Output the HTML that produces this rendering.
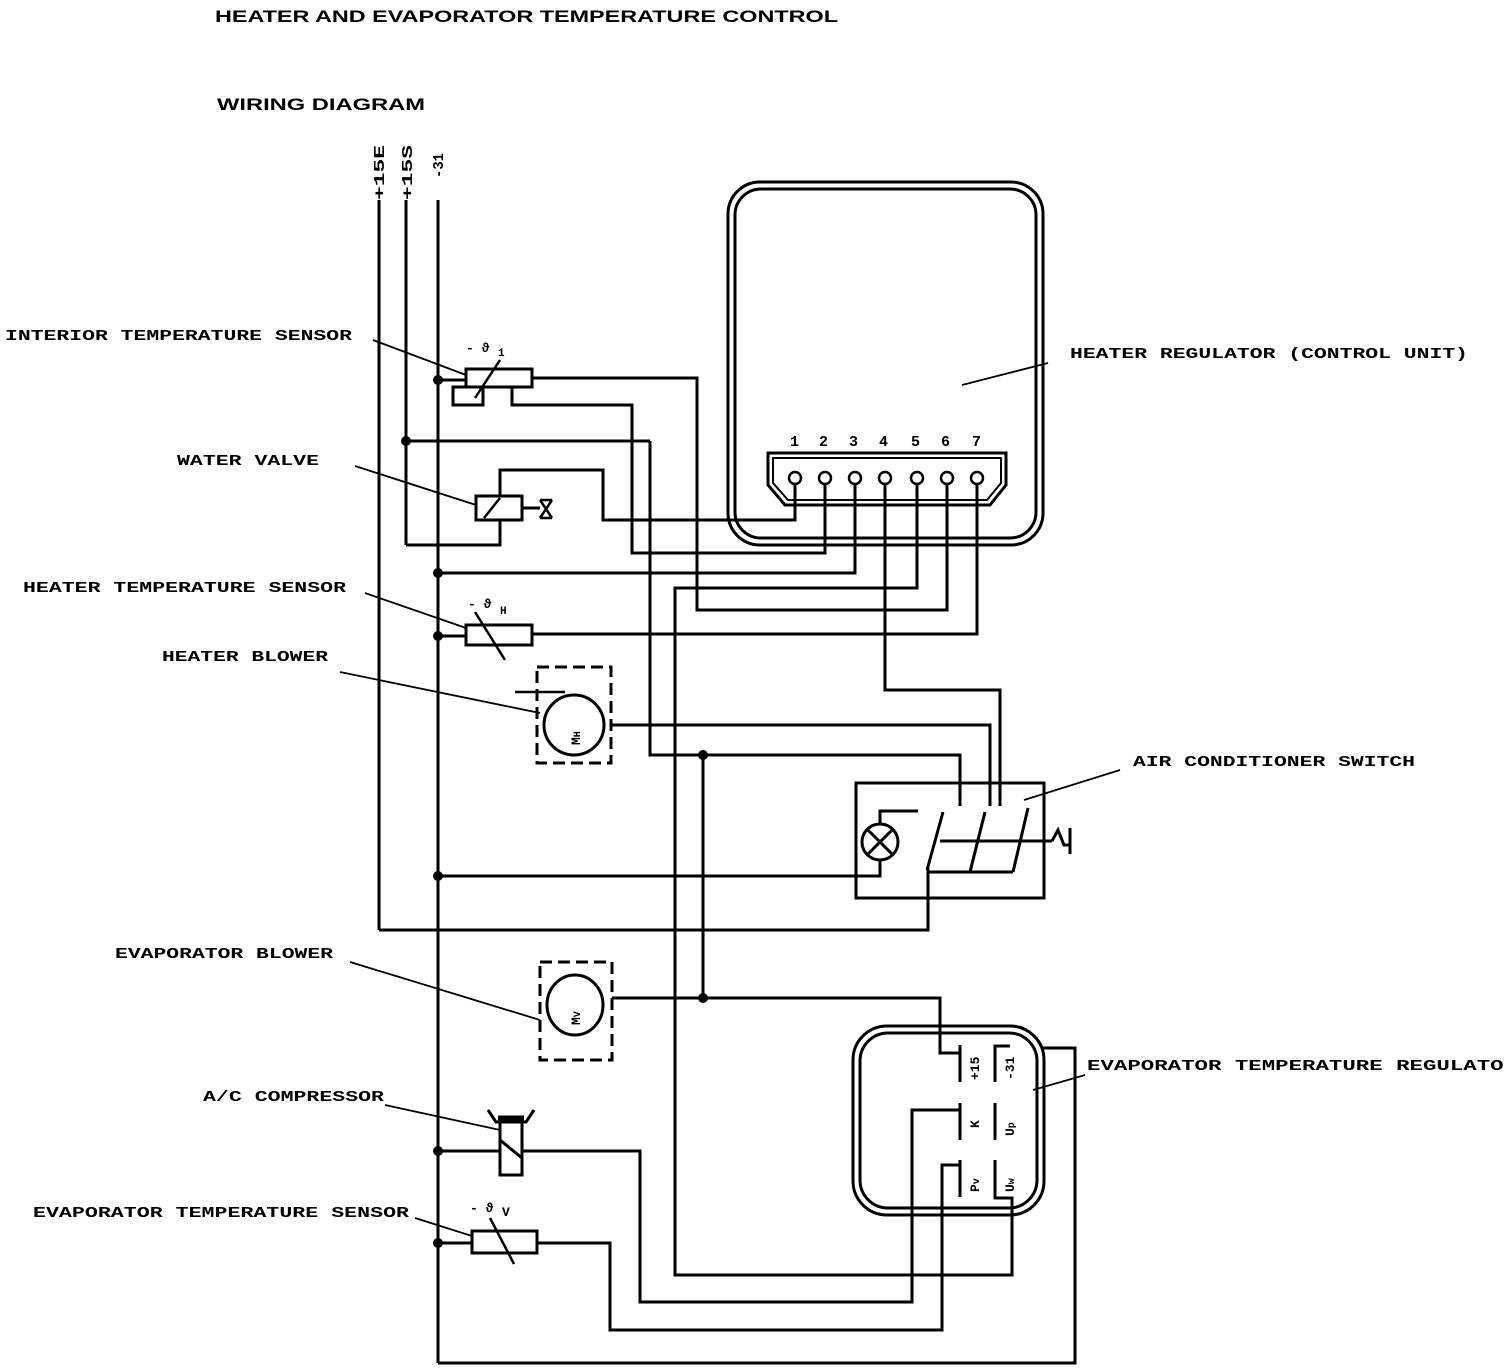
<!DOCTYPE html>
<html><head><meta charset="utf-8"><style>
html,body{margin:0;padding:0;background:#fff;}
svg{display:block;}
.t{font-family:"Liberation Mono",monospace;font-size:15px;font-weight:bold;fill:#000;}
.h{font-family:"Liberation Sans",sans-serif;font-size:17px;font-weight:bold;fill:#000;}
</style></head><body>
<svg width="1504" height="1372" viewBox="0 0 1504 1372" xmlns="http://www.w3.org/2000/svg">
<g class="h">
<text x="215" y="22" textLength="623" lengthAdjust="spacingAndGlyphs">HEATER AND EVAPORATOR TEMPERATURE CONTROL</text>
<text x="217" y="110" textLength="208" lengthAdjust="spacingAndGlyphs">WIRING DIAGRAM</text>
</g>
<g class="t">
<text x="5" y="340" textLength="347" lengthAdjust="spacingAndGlyphs">INTERIOR TEMPERATURE SENSOR</text>
<text x="177" y="465" textLength="142" lengthAdjust="spacingAndGlyphs">WATER VALVE</text>
<text x="23" y="592" textLength="323" lengthAdjust="spacingAndGlyphs">HEATER TEMPERATURE SENSOR</text>
<text x="162" y="661" textLength="166" lengthAdjust="spacingAndGlyphs">HEATER BLOWER</text>
<text x="1070" y="358" textLength="398" lengthAdjust="spacingAndGlyphs">HEATER REGULATOR (CONTROL UNIT)</text>
<text x="1133" y="766" textLength="282" lengthAdjust="spacingAndGlyphs">AIR CONDITIONER SWITCH</text>
<text x="115" y="958" textLength="218" lengthAdjust="spacingAndGlyphs">EVAPORATOR BLOWER</text>
<text x="203" y="1101" textLength="181" lengthAdjust="spacingAndGlyphs">A/C COMPRESSOR</text>
<text x="33" y="1217" textLength="376" lengthAdjust="spacingAndGlyphs">EVAPORATOR TEMPERATURE SENSOR</text>
<text x="1087" y="1070" textLength="430" lengthAdjust="spacingAndGlyphs">EVAPORATOR TEMPERATURE REGULATOR</text>
<text transform="translate(384,200) rotate(-90)" textLength="55" lengthAdjust="spacingAndGlyphs">+15E</text>
<text transform="translate(412,200) rotate(-90)" textLength="55" lengthAdjust="spacingAndGlyphs">+15S</text>
<text transform="translate(443,178) rotate(-90)" textLength="25" lengthAdjust="spacingAndGlyphs">-31</text>
<text x="790" y="446">1</text><text x="819" y="446">2</text><text x="849" y="446">3</text><text x="879" y="446">4</text><text x="911" y="446">5</text><text x="941" y="446">6</text><text x="972" y="446">7</text>
<text x="466" y="352" font-size="13">- ϑ</text><text x="498" y="356" font-size="11">1</text>
<text x="468" y="608" font-size="13">- ϑ</text><text x="500" y="614" font-size="11">H</text>
<text x="470" y="1212" font-size="13">- ϑ</text><text x="502" y="1216" font-size="13">V</text>
</g>
<g fill="none" stroke="#000" stroke-width="1.8">
<line x1="373" y1="340" x2="466" y2="375"/>
<line x1="355" y1="466" x2="476" y2="505"/>
<line x1="365" y1="593" x2="466" y2="628"/>
<line x1="340" y1="672" x2="540" y2="713"/>
<line x1="1048" y1="363" x2="962" y2="385"/>
<line x1="1120" y1="770" x2="1024" y2="800"/>
<line x1="350" y1="962" x2="540" y2="1020"/>
<line x1="385" y1="1105" x2="500" y2="1130"/>
<line x1="415" y1="1218" x2="472" y2="1236"/>
<line x1="1085" y1="1075" x2="1033" y2="1090"/>
</g>
<g fill="none" stroke="#000" stroke-width="3" stroke-linejoin="miter">
<line x1="379" y1="200" x2="379" y2="930"/>
<line x1="406" y1="200" x2="406" y2="545"/>
<line x1="438" y1="200" x2="438" y2="1363"/>
<rect x="728" y="182" width="315" height="363" rx="32"/>
<rect x="735" y="189" width="301" height="349" rx="26"/>
<path d="M768,453 H1006 V485 L990,505 H785 L768,485 Z"/>
<path d="M773,458 H1001 V483 L987,500 H788 L773,483 Z" stroke-width="2"/>
<line x1="438" y1="380" x2="466" y2="380"/>
<rect x="466" y="369" width="66" height="18"/>
<line x1="475" y1="398" x2="500" y2="360" stroke-width="2.5"/>
<path d="M466,387 H453 V405 H483 V387"/>
<path d="M512,387 V405 H632 V553 H825 V480"/>
<path d="M532,378 H697 V610 H947 V480"/>
<line x1="406" y1="441" x2="650" y2="441"/>
<path d="M650,441 V755 H960 V806"/>
<rect x="476" y="496" width="46" height="24"/>
<line x1="484" y1="518" x2="500" y2="498" stroke-width="2.5"/>
<line x1="522" y1="508" x2="540" y2="508"/>
<path d="M540,500 L552,518 M552,500 L540,518 M540,500 H552 M540,518 H552" stroke-width="2.5"/>
<path d="M500,520 V545 H406"/>
<path d="M500,496 V470 H603 V520 H795 V480"/>
<path d="M438,573 H855 V480"/>
<path d="M917,480 V588 H675 V1275 H1012 V1210"/>
<path d="M885,480 V690 H1000 V806"/>
<line x1="438" y1="636" x2="466" y2="636"/>
<rect x="466" y="625" width="66" height="20"/>
<line x1="475" y1="612" x2="505" y2="660" stroke-width="2.5"/>
<path d="M532,634 H977 V480"/>
<rect x="537" y="667" width="74" height="96" stroke-dasharray="12,6"/>
<circle cx="574" cy="725" r="30"/>
<line x1="515" y1="692" x2="565" y2="692" stroke-width="2.5"/>
<path d="M611,725 H990 V806"/>
<line x1="650" y1="755" x2="960" y2="755"/>
<line x1="703" y1="755" x2="703" y2="998"/>
<rect x="856" y="783" width="188" height="115"/>
<circle cx="880" cy="842" r="18"/>
<line x1="867" y1="829" x2="893" y2="855"/><line x1="893" y1="829" x2="867" y2="855"/>
<path d="M880,824 V811 H918"/>
<path d="M438,876 H880 V860"/>
<line x1="943" y1="812" x2="927" y2="870"/>
<line x1="985" y1="812" x2="970" y2="872"/>
<line x1="1028" y1="808" x2="1013" y2="872"/>
<line x1="940" y1="841" x2="1052" y2="841"/>
<path d="M1052,841 L1058,830 L1064,845 H1070 M1070,828 V854"/>
<path d="M928,872 H1013"/>
<path d="M379,930 H928 V868"/>
<rect x="540" y="962" width="72" height="98" stroke-dasharray="12,6"/>
<ellipse cx="575" cy="1005" rx="28" ry="30"/>
<path d="M612,998 H940 V1053 H960"/>
<rect x="853" y="1026" width="191" height="189" rx="34"/>
<rect x="860" y="1033" width="177" height="175" rx="28"/>
<line x1="960" y1="1045" x2="960" y2="1082"/>
<path d="M1010,1046 H995 V1082"/>
<line x1="960" y1="1103" x2="960" y2="1140"/>
<line x1="995" y1="1103" x2="995" y2="1140"/>
<line x1="960" y1="1160" x2="960" y2="1197"/>
<path d="M995,1160 V1198 H1012 V1210"/>
<path d="M1042,1048 H1075 V1363 H438"/>
<line x1="438" y1="1151" x2="500" y2="1151"/>
<rect x="500" y="1120" width="22" height="55"/>
<line x1="500" y1="1140" x2="522" y2="1158"/>
<path d="M488,1110 L496,1122 H526 L534,1110"/>
<line x1="498" y1="1118" x2="524" y2="1118" stroke-width="5"/>
<path d="M522,1151 H640 V1302 H912 V1110 H960"/>
<line x1="438" y1="1243" x2="472" y2="1243"/>
<rect x="472" y="1231" width="65" height="22"/>
<line x1="490" y1="1218" x2="514" y2="1264" stroke-width="2.5"/>
<path d="M537,1243 H610 V1330 H942 V1165 H960"/>
</g>
<g font-family="Liberation Mono,monospace" font-weight="bold" font-size="13" fill="#000">
<text transform="translate(979,1080) rotate(-90)">+15</text>
<text transform="translate(1014,1080) rotate(-90)">-31</text>
<text transform="translate(979,1128) rotate(-90)">K</text>
<text transform="translate(1014,1136) rotate(-90)">U<tspan font-size="10">p</tspan></text>
<text transform="translate(979,1192) rotate(-90)">P<tspan font-size="10">v</tspan></text>
<text transform="translate(1014,1192) rotate(-90)">U<tspan font-size="10">w</tspan></text>
<text transform="translate(580,1025) rotate(-90)">M<tspan font-size="10">V</tspan></text>
<text transform="translate(580,745) rotate(-90)">M<tspan font-size="10">H</tspan></text>
</g>
<g fill="#000">
<circle cx="438" cy="380" r="5"/><circle cx="406" cy="441" r="5"/><circle cx="438" cy="573" r="5"/>
<circle cx="438" cy="636" r="5"/><circle cx="703" cy="755" r="5"/><circle cx="438" cy="876" r="5"/>
<circle cx="703" cy="998" r="5"/><circle cx="438" cy="1151" r="5"/><circle cx="438" cy="1243" r="5"/>
<circle cx="795" cy="478" r="6" fill="#fff" stroke="#000" stroke-width="2.5"/>
<circle cx="825" cy="478" r="6" fill="#fff" stroke="#000" stroke-width="2.5"/>
<circle cx="855" cy="478" r="6" fill="#fff" stroke="#000" stroke-width="2.5"/>
<circle cx="885" cy="478" r="6" fill="#fff" stroke="#000" stroke-width="2.5"/>
<circle cx="917" cy="478" r="6" fill="#fff" stroke="#000" stroke-width="2.5"/>
<circle cx="947" cy="478" r="6" fill="#fff" stroke="#000" stroke-width="2.5"/>
<circle cx="977" cy="478" r="6" fill="#fff" stroke="#000" stroke-width="2.5"/>
</g>
</svg>
</body></html>
